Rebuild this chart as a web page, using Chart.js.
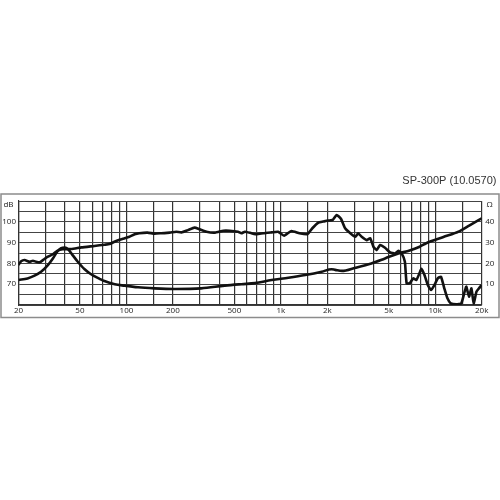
<!DOCTYPE html>
<html>
<head>
<meta charset="utf-8">
<script src="https://cdn.jsdelivr.net/npm/chart.js@4.4.1/dist/chart.umd.min.js"></script>
<style>html,body{margin:0;padding:0;background:#fff;}canvas{display:block;}</style>
</head>
<body>
<canvas id="c" width="500" height="500"></canvas>
<script>
const chartTitle = 'SP-300P (10.0570)';
const leftUnit = 'dB';
const rightUnit = 'Ω';

const gridFreqs = [20,30,40,50,60,70,80,90,100,150,200,300,400,500,600,700,800,900,1000,1500,2000,3000,4000,5000,6000,7000,8000,9000,10000,15000,20000];
const xLabelFreqs = [20,50,100,200,500,1000,2000,5000,10000,20000];
const xLabelTexts = ['20','50','100','200','500','1k','2k','5k','10k','20k'];
const leftLabels = [70,80,90,100];
const rightLabels = [10,20,30,40];

// SPL (dB, left axis)
const splFreq = [20,20.8,21.9,23.6,24.8,26,27.4,28.8,31,33.4,35.6,38.6,43.9,51.2,62,72.3,77.6,83.6,90.3,97.5,104.5,113,121,137,152,168,191,210,227,250,276,298,330,375,424,465,528,556,585,646,700,770,871,960,1050,1170,1320,1490,1600,1750,1880,2020,2170,2300,2450,2610,2820,3040,3170,3340,3600,3790,3980,4180,4390,4730,5100,5490,5770,6060,6360,6530,6860,7200,7550,7930,8150,8520,8950,9400,9880,10380,10900,11450,12000,12600,13700,14750,15500,15900,16550,17150,17750,18500,19200,20000];
const splDb = [79.3,81.0,81.6,80.8,81.3,80.8,80.5,81.6,83.2,84.4,86.0,86.8,86.9,87.7,88.4,89.0,89.3,90.4,91.4,92.1,92.8,94.0,94.5,94.8,94.3,94.5,94.8,95.2,94.9,96.0,97.2,96.4,95.2,94.8,95.7,95.7,95.2,94.5,95.2,94.5,94.0,94.5,94.9,95.2,93.3,95.6,94.5,94.1,96.9,99.6,100.1,100.6,100.9,103.3,101.5,96.9,94.5,92.8,94.5,92.8,91.2,92.1,88.0,86.4,88.8,87.5,85.3,84.8,86.0,84.8,80.8,70.4,70.6,72.8,72.0,75.5,77.4,74.4,69.6,67.2,69.6,72.8,73.6,68.0,63.2,60.8,60.3,60.8,66.4,68.8,64.0,68.0,60.8,66.4,68.0,69.6];

// Impedance (Ω, right axis)
const impFreq = [20,22.9,25.4,28,31,33.4,35.6,37.8,39.9,41.9,44.8,48.4,53.4,59,67,72,84,97,119,152,205,305,433,556,680,871,1120,1440,1840,2130,2250,2490,3040,3860,4730,5770,6680,7930,8740,11200,14300,16700,20000];
const impOhm = [12.0,12.8,14.1,16.0,19.2,22.4,25.6,27.3,27.6,26.8,24.0,20.8,17.3,14.8,12.6,11.5,10.0,9.3,8.5,8.0,7.7,8.0,9.3,10.0,10.5,12.0,13.1,14.4,16.0,17.2,16.9,16.4,17.9,20.0,22.4,24.8,26.0,28.0,29.7,32.6,35.4,38.3,41.7];

const FONT = '"Open Sans", "Liberation Sans", Arial, sans-serif';

const framePlugin = {
  id: 'frame',
  beforeDraw(chart) {
    const ctx = chart.ctx;
    ctx.save();
    ctx.fillStyle = '#fff';
    ctx.fillRect(0, 0, chart.width, chart.height);
    ctx.strokeStyle = '#8c8c8c';
    ctx.lineWidth = 1.5;
    ctx.strokeRect(1, 194, 498, 123.5);
    ctx.restore();
  },
  afterDraw(chart) {
    const ctx = chart.ctx;
    const a = chart.chartArea;
    ctx.save();
    ctx.fillStyle = '#333';
    ctx.font = '11px "Liberation Sans", Arial, sans-serif';
    ctx.textAlign = 'right';
    ctx.textBaseline = 'middle';
    ctx.fillText(chartTitle, 496.5, 181);
    ctx.fillStyle = '#222';
    ctx.font = '8px ' + FONT;
    ctx.textAlign = 'center';
    ctx.fillText(leftUnit, a.left - 10, a.top + 3.8);
    ctx.fillText(rightUnit, a.right + 8, a.top + 3.5);
    ctx.restore();
  }
};

new Chart(document.getElementById('c'), {
  type: 'line',
  data: {
    datasets: [
      {
        data: splFreq.map((f, i) => ({x: f, y: splDb[i]})),
        yAxisID: 'y',
        borderColor: '#111',
        borderWidth: 2.6,
        pointRadius: 0,
        tension: 0.15,
        fill: false
      },
      {
        data: impFreq.map((f, i) => ({x: f, y: impOhm[i]})),
        yAxisID: 'y1',
        borderColor: '#111',
        borderWidth: 2.6,
        pointRadius: 0,
        cubicInterpolationMode: 'monotone',
        fill: false
      }
    ]
  },
  options: {
    responsive: false,
    animation: false,
    events: [],
    layout: {padding: {left: 0, right: 0, top: 201, bottom: 183}},
    plugins: {legend: {display: false}, tooltip: {enabled: false}, title: {display: false}},
    scales: {
      x: {
        type: 'logarithmic',
        min: 20,
        max: 20000,
        afterBuildTicks: s => { s.ticks = gridFreqs.map(v => ({value: v})); },
        afterFit: s => { s.height = 12; },
        ticks: {
          autoSkip: false, maxRotation: 0, minRotation: 0, padding: 1,
          color: '#222', font: {size: 8, family: FONT},
          callback: v => { const i = xLabelFreqs.indexOf(v); return i >= 0 ? xLabelTexts[i] : ''; }
        },
        grid: {color: '#333', lineWidth: 1.2, drawTicks: false},
        border: {display: true, color: '#333', width: 1.2}
      },
      y: {
        position: 'left',
        min: 60, max: 110,
        afterFit: s => { s.width = 18.5; },
        ticks: {
          stepSize: 5, autoSkip: false, padding: 2.5, color: '#222', font: {size: 8, family: FONT},
          callback: v => leftLabels.includes(v) ? String(v) : ''
        },
        grid: {color: '#444', lineWidth: 1, drawTicks: false},
        border: {display: true, color: '#333', width: 1.2}
      },
      y1: {
        position: 'right',
        min: 0, max: 50,
        afterFit: s => { s.width = 18.3; },
        ticks: {
          stepSize: 5, autoSkip: false, padding: 3.5, color: '#222', font: {size: 8, family: FONT},
          callback: v => rightLabels.includes(v) ? String(v) : ''
        },
        grid: {display: false, drawTicks: false},
        border: {display: false}
      }
    }
  },
  plugins: [framePlugin]
});
</script>
</body>
</html>
